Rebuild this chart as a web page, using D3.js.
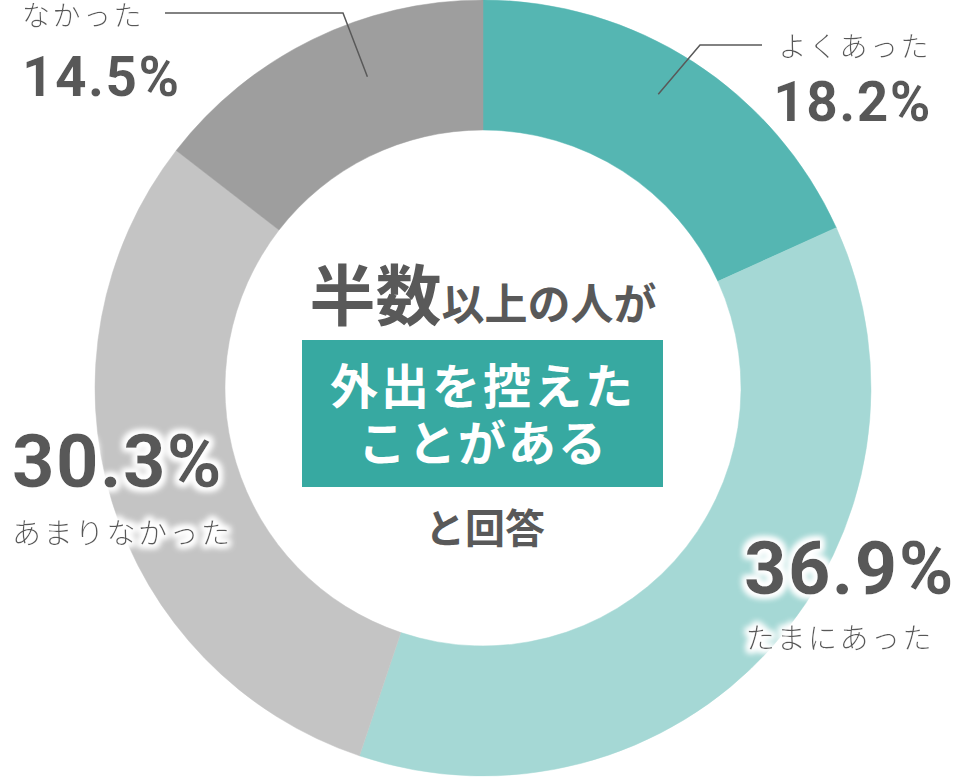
<!DOCTYPE html>
<html>
<head>
  <meta charset="utf-8">
  <title>外出を控えたことがある</title>
  <style>
  body {
    margin: 0px;
    background: #fff;
  }
  text {
    font-family: "Noto Sans CJK JP", "Noto Sans", sans-serif;
  }
  .pct {
    font-family: Roboto, "Noto Sans", sans-serif;
    font-weight: 700;
    fill: #595959;
  }
  .cat {
    font-weight: 300;
    fill: #595959;
  }
  .leader {
    fill: none;
    stroke: #595959;
    stroke-width: 1.5px;
  }
  </style>
</head>
<body>
  <svg width="966" height="778"></svg>
  <script src="https://d3js.org/d3.v7.min.js"></script>
  <script>
  // data
  var categories = ["よくあった", "たまにあった", "あまりなかった", "なかった"];
  var values = [18.2, 36.9, 30.3, 14.5];
  var colors = ["#55b6b2", "#a5d8d5", "#c4c4c4", "#9e9e9e"];

  // where each label sits (layout only)
  var labelPos = [
    { x: 932, y: 121, anchor: "end", size: 55, catY: 57, catX: 931, catSize: 28 },
    { x: 955, y: 594, anchor: "end", size: 74, catY: 649, catX: 934, catSize: 29 },
    { x: 12, y: 487, anchor: "start", size: 74, catY: 544, catX: 12, catSize: 29 },
    { x: 22, y: 96, anchor: "start", size: 55, catY: 26, catX: 22, catSize: 28 }
  ];
  // leader lines: position inside the slice (0..1), elbow and end
  var leaders = [
    { i: 0, t: 0.47, r: 342, elbow: [700, 45], end: [762, 45] },
    { i: 3, t: 0.61, r: 332, elbow: [343, 13], end: [165, 13] }
  ];

  var svg = d3.select("svg");
  var cx = 483, cy = 388;
  var outerR = 388, innerR = 258;

  var defs = svg.append("defs");
  var glow = defs.append("filter").attr("id", "glow")
    .attr("x", "-20%").attr("y", "-30%").attr("width", "140%").attr("height", "160%");
  glow.append("feMorphology").attr("in", "SourceAlpha").attr("operator", "dilate").attr("radius", 3).attr("result", "d");
  glow.append("feGaussianBlur").attr("in", "d").attr("stdDeviation", 3).attr("result", "b");
  glow.append("feFlood").attr("flood-color", "#fff");
  glow.append("feComposite").attr("in2", "b").attr("operator", "in").attr("result", "w");
  var merge = glow.append("feMerge");
  merge.append("feMergeNode").attr("in", "w");
  merge.append("feMergeNode").attr("in", "w");
  merge.append("feMergeNode").attr("in", "SourceGraphic");

  var pie = d3.pie().sort(null).value(function(d) { return d; });
  var arcs = pie(values);
  var arc = d3.arc().innerRadius(innerR).outerRadius(outerR);

  var g = svg.append("g").attr("transform", "translate(" + cx + "," + cy + ")");
  g.selectAll(".slice")
    .data(arcs)
    .enter()
    .append("path")
    .attr("class", "slice")
    .attr("d", arc)
    .attr("fill", function(d, i) { return colors[i]; })
    .attr("stroke", function(d, i) { return colors[i]; })
    .attr("stroke-width", 0.5);

  // leader lines
  leaders.forEach(function(l) {
    var a = arcs[l.i];
    var ang = a.startAngle + (a.endAngle - a.startAngle) * l.t;
    var px = cx + l.r * Math.sin(ang);
    var py = cy - l.r * Math.cos(ang);
    svg.append("path")
      .attr("class", "leader")
      .attr("d", "M" + px + "," + py + "L" + l.elbow[0] + "," + l.elbow[1] + "L" + l.end[0] + "," + l.end[1]);
  });

  // labels
  var labels = svg.selectAll(".label")
    .data(arcs)
    .enter()
    .append("g")
    .attr("class", "label")
    .attr("filter", "url(#glow)");

  labels.append("text")
    .attr("class", "pct")
    .attr("x", function(d, i) { return labelPos[i].x; })
    .attr("y", function(d, i) { return labelPos[i].y; })
    .attr("text-anchor", function(d, i) { return labelPos[i].anchor; })
    .attr("font-size", function(d, i) { return labelPos[i].size; })
    .attr("letter-spacing", 1.5)
    .text(function(d) { return d3.format(".1f")(d.data) + "%"; });

  labels.append("text")
    .attr("class", "cat")
    .attr("x", function(d, i) { return labelPos[i].catX; })
    .attr("y", function(d, i) { return labelPos[i].catY; })
    .attr("text-anchor", function(d, i) { return labelPos[i].anchor; })
    .attr("font-size", function(d, i) { return labelPos[i].catSize; })
    .attr("letter-spacing", 2.5)
    .text(function(d, i) { return categories[i]; });

  // centre message
  var c = svg.append("g");
  var head = c.append("text")
    .attr("x", cx)
    .attr("y", 320)
    .attr("text-anchor", "middle")
    .attr("fill", "#595959")
    .attr("font-weight", 700);
  head.append("tspan").attr("font-size", 66).text("半数");
  head.append("tspan").attr("font-size", 43).text("以上の人が");

  c.append("rect")
    .attr("x", 302)
    .attr("y", 340)
    .attr("width", 361)
    .attr("height", 147)
    .attr("fill", "#37a9a1");

  c.append("text")
    .attr("x", cx)
    .attr("y", 404)
    .attr("text-anchor", "middle")
    .attr("fill", "#fff")
    .attr("font-weight", 700)
    .attr("font-size", 48)
    .attr("letter-spacing", 3)
    .text("外出を控えた");

  c.append("text")
    .attr("x", cx)
    .attr("y", 461)
    .attr("text-anchor", "middle")
    .attr("fill", "#fff")
    .attr("font-weight", 700)
    .attr("font-size", 48)
    .attr("letter-spacing", 2)
    .text("ことがある");

  c.append("text")
    .attr("x", cx + 2)
    .attr("y", 543)
    .attr("text-anchor", "middle")
    .attr("fill", "#595959")
    .attr("font-weight", 700)
    .attr("font-size", 40)
    .text("と回答");
  </script>
</body>
</html>
